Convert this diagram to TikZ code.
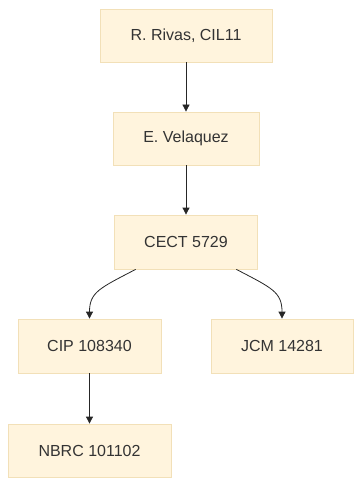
\documentclass[tikz,border=0pt]{standalone}
\usepackage{fontspec}
\setmainfont{Liberation Sans}
\usetikzlibrary{arrows.meta}
\definecolor{boxfill}{HTML}{FFF4DD}
\definecolor{boxline}{HTML}{F2E0B8}
\definecolor{txt}{HTML}{333333}
\begin{document}
\begin{tikzpicture}[x=1pt,y=-1pt,
  box/.style={draw=boxline,fill=boxfill,line width=0.8pt,text=txt,font=\fontsize{16}{18}\selectfont,inner sep=0pt,anchor=center},
  conn/.style={draw=black!85,line width=0.8pt,-{Triangle[length=7pt,width=7pt]}}]
\useasboundingbox (0,0) rectangle (362,486);
\node[box,minimum width=172pt,minimum height=53pt] (a) at (186,35.5) {R. Rivas, CIL11};
\node[box,minimum width=146pt,minimum height=53pt] (b) at (186,138.5) {E. Velaquez};
\node[box,minimum width=143pt,minimum height=54pt] (c) at (186,242) {CECT 5729};
\node[box,minimum width=143pt,minimum height=54pt] (d) at (89.5,346) {CIP 108340};
\node[box,minimum width=142pt,minimum height=54pt] (e) at (282,346) {JCM 14281};
\node[box,minimum width=163pt,minimum height=53pt] (f) at (89.5,450.5) {NBRC 101102};
\draw[conn] (a.south) -- (b.north);
\draw[conn] (b.south) -- (c.north);
\path (c.south west) ++(21.5,0) coordinate (c1);
\path (c.south east) ++(-21.5,0) coordinate (c2);
\draw[conn] (c1) .. controls (100,288) and (89.5,292) .. (d.north);
\draw[conn] (c2) .. controls (272,288) and (282,292) .. (e.north);
\draw[conn] (d.south) -- (f.north);
\end{tikzpicture}
\end{document}
